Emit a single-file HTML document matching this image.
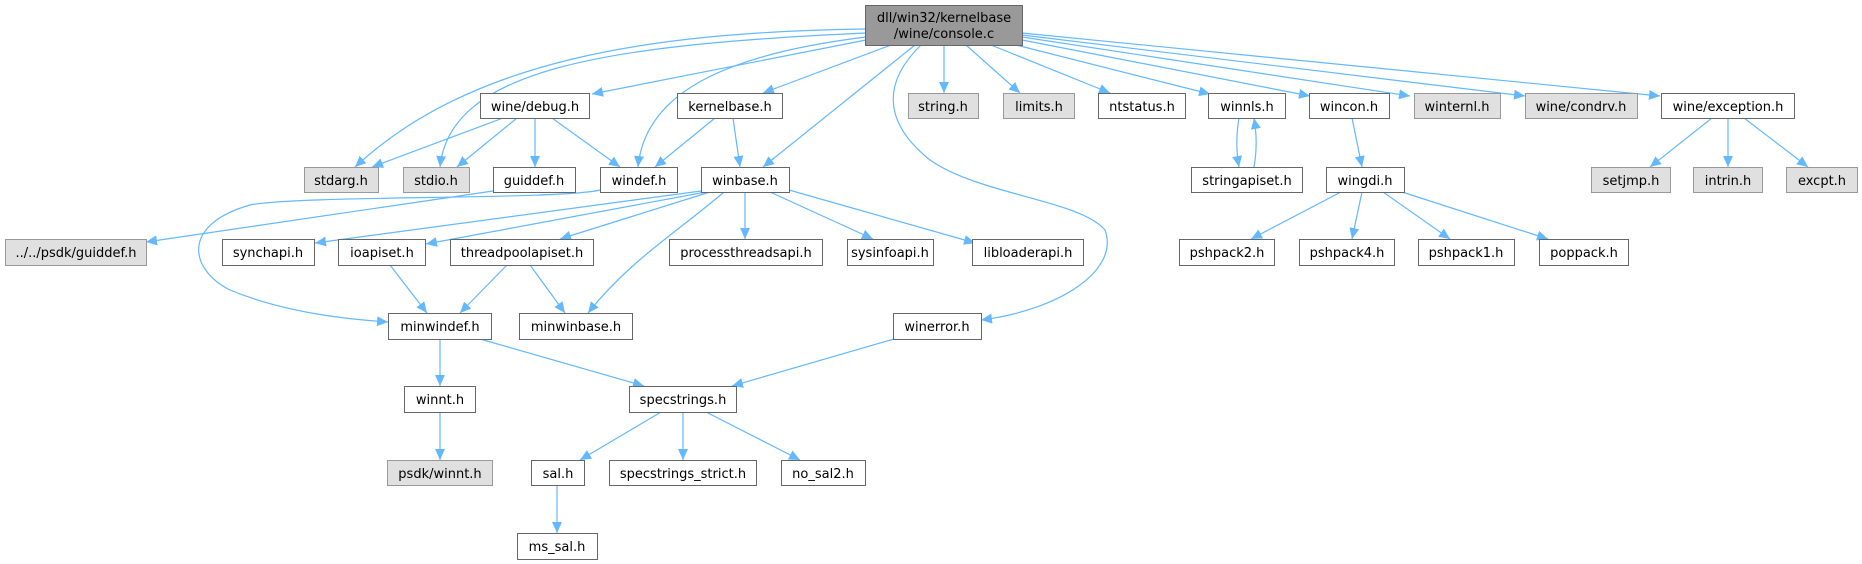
<!DOCTYPE html>
<html><head><meta charset="utf-8"><style>
html,body{margin:0;padding:0;background:#fff;}
svg{display:block;}
text{font-family:"DejaVu Sans","Liberation Sans",sans-serif;font-size:13px;fill:#000;text-anchor:middle;}
.w{fill:#fff;stroke:#666;stroke-width:1;}
.g{fill:#e0e0e0;stroke:#999;stroke-width:1;}
.t{fill:#999;stroke:#666;stroke-width:1;}
.e{fill:none;stroke:#63b8ff;stroke-width:1.2;}
</style></head><body>
<svg width="1862" height="564" viewBox="0 0 1862 564" xmlns="http://www.w3.org/2000/svg">
<defs><marker id="a" markerUnits="userSpaceOnUse" markerWidth="12" markerHeight="10" refX="11" refY="5" orient="auto"><path d="M0,0 L11,5 L0,10 z" fill="#63b8ff"/></marker></defs>
<g class="edges" marker-end="url(#a)">
<path class="e" d="M866,29 C650,32 470,60 355,167"/>
<path class="e" d="M866,33 C600,45 450,70 440,167"/>
<path class="e" d="M866,40 L592,94"/>
<path class="e" d="M866,37 C720,55 645,95 638,167"/>
<path class="e" d="M891,45 L763,93"/>
<path class="e" d="M915,45 L763,167"/>
<path class="e" d="M921,45 C885,80 880,120 930,160 C980,195 1080,200 1105,230 C1120,270 1060,310 981,320"/>
<path class="e" d="M944,45 L944,93"/>
<path class="e" d="M966,45 L1020,93"/>
<path class="e" d="M991,45 L1110,93"/>
<path class="e" d="M1016,45 L1210,94"/>
<path class="e" d="M1022,40 L1310,96"/>
<path class="e" d="M1022,37 L1410,96"/>
<path class="e" d="M1022,35 L1525,96"/>
<path class="e" d="M1022,33 L1660,96"/>
<path class="e" d="M503,118 L372,167"/>
<path class="e" d="M517,118 L457,167"/>
<path class="e" d="M535,118 L535,167"/>
<path class="e" d="M552,118 L620,167"/>
<path class="e" d="M715,118 L655,167"/>
<path class="e" d="M733,118 L740,167"/>
<path class="e" d="M493,191 L146,242"/>
<path class="e" d="M600,190 C560,200 300,195 250,205 C180,225 190,270 230,290 C290,315 360,320 388,322"/>
<path class="e" d="M701,191 L315,243"/>
<path class="e" d="M706,192 L426,244"/>
<path class="e" d="M710,192 L560,239"/>
<path class="e" d="M724,192 C680,230 630,260 588,313"/>
<path class="e" d="M745,192 L745,239"/>
<path class="e" d="M770,192 L873,239"/>
<path class="e" d="M789,190 L975,243"/>
<path class="e" d="M390,265 L427,313"/>
<path class="e" d="M507,265 L460,313"/>
<path class="e" d="M530,265 L565,313"/>
<path class="e" d="M440,339 L440,386"/>
<path class="e" d="M480,339 L644,386"/>
<path class="e" d="M894,339 L732,386"/>
<path class="e" d="M440,412 L440,460"/>
<path class="e" d="M661,412 L580,460"/>
<path class="e" d="M683,412 L683,460"/>
<path class="e" d="M706,412 L800,460"/>
<path class="e" d="M557,485 L557,533"/>
<path class="e" d="M1239,118 C1236,135 1236,150 1239,167"/>
<path class="e" d="M1254,167 C1257,150 1257,135 1254,118"/>
<path class="e" d="M1352,118 L1362,167"/>
<path class="e" d="M1341,192 L1251,239"/>
<path class="e" d="M1362,192 L1352,239"/>
<path class="e" d="M1383,192 L1450,239"/>
<path class="e" d="M1402,192 L1548,239"/>
<path class="e" d="M1712,118 L1650,167"/>
<path class="e" d="M1728,118 L1728,167"/>
<path class="e" d="M1744,118 L1808,167"/>
</g>
<rect class="t" x="865.5" y="5.5" width="157" height="40"/>
<text x="944" y="22">dll/win32/kernelbase</text><text x="944" y="38">/wine/console.c</text>
<g>
<rect class="w" x="480.5" y="93.5" width="109" height="25"/><text x="535" y="111">wine/debug.h</text>
<rect class="w" x="677.5" y="93.5" width="105" height="25"/><text x="730" y="111">kernelbase.h</text>
<rect class="g" x="908.5" y="93.5" width="70" height="25"/><text x="943" y="111">string.h</text>
<rect class="g" x="1003.5" y="93.5" width="71" height="25"/><text x="1039" y="111">limits.h</text>
<rect class="w" x="1098.5" y="93.5" width="87" height="25"/><text x="1142" y="111">ntstatus.h</text>
<rect class="w" x="1208.5" y="93.5" width="77" height="25"/><text x="1247" y="111">winnls.h</text>
<rect class="w" x="1309.5" y="93.5" width="80" height="25"/><text x="1349" y="111">wincon.h</text>
<rect class="g" x="1414.5" y="93.5" width="86" height="25"/><text x="1457" y="111">winternl.h</text>
<rect class="g" x="1525.5" y="93.5" width="112" height="25"/><text x="1581" y="111">wine/condrv.h</text>
<rect class="w" x="1661.5" y="93.5" width="133" height="25"/><text x="1728" y="111">wine/exception.h</text>

<rect class="g" x="304.5" y="167.5" width="74" height="25"/><text x="341" y="185">stdarg.h</text>
<rect class="g" x="403.5" y="167.5" width="66" height="25"/><text x="436" y="185">stdio.h</text>
<rect class="w" x="493.5" y="167.5" width="82" height="25"/><text x="534" y="185">guiddef.h</text>
<rect class="w" x="600.5" y="167.5" width="77" height="25"/><text x="639" y="185">windef.h</text>
<rect class="w" x="701.5" y="167.5" width="88" height="25"/><text x="745" y="185">winbase.h</text>
<rect class="w" x="1191.5" y="167.5" width="111" height="25"/><text x="1247" y="185">stringapiset.h</text>
<rect class="w" x="1326.5" y="167.5" width="78" height="25"/><text x="1365" y="185">wingdi.h</text>
<rect class="g" x="1591.5" y="167.5" width="79" height="25"/><text x="1631" y="185">setjmp.h</text>
<rect class="g" x="1693.5" y="167.5" width="69" height="25"/><text x="1728" y="185">intrin.h</text>
<rect class="g" x="1786.5" y="167.5" width="71" height="25"/><text x="1822" y="185">excpt.h</text>

<rect class="g" x="5.5" y="239.5" width="141" height="26"/><text x="76" y="257">../../psdk/guiddef.h</text>
<rect class="w" x="222.5" y="239.5" width="92" height="26"/><text x="268" y="257">synchapi.h</text>
<rect class="w" x="338.5" y="239.5" width="87" height="26"/><text x="382" y="257">ioapiset.h</text>
<rect class="w" x="450.5" y="239.5" width="143" height="26"/><text x="522" y="257">threadpoolapiset.h</text>
<rect class="w" x="669.5" y="239.5" width="153" height="26"/><text x="746" y="257">processthreadsapi.h</text>
<rect class="w" x="847.5" y="239.5" width="86" height="26"/><text x="890" y="257">sysinfoapi.h</text>
<rect class="w" x="972.5" y="239.5" width="111" height="26"/><text x="1028" y="257">libloaderapi.h</text>
<rect class="w" x="1179.5" y="239.5" width="95" height="26"/><text x="1227" y="257">pshpack2.h</text>
<rect class="w" x="1299.5" y="239.5" width="95" height="26"/><text x="1347" y="257">pshpack4.h</text>
<rect class="w" x="1418.5" y="239.5" width="96" height="26"/><text x="1466" y="257">pshpack1.h</text>
<rect class="w" x="1539.5" y="239.5" width="89" height="26"/><text x="1584" y="257">poppack.h</text>

<rect class="w" x="388.5" y="313.5" width="103" height="26"/><text x="440" y="331">minwindef.h</text>
<rect class="w" x="519.5" y="313.5" width="113" height="26"/><text x="576" y="331">minwinbase.h</text>
<rect class="w" x="893.5" y="313.5" width="88" height="26"/><text x="937" y="331">winerror.h</text>

<rect class="w" x="404.5" y="386.5" width="71" height="26"/><text x="440" y="404">winnt.h</text>
<rect class="w" x="629.5" y="386.5" width="107" height="26"/><text x="683" y="404">specstrings.h</text>

<rect class="g" x="387.5" y="460.5" width="105" height="25"/><text x="440" y="478">psdk/winnt.h</text>
<rect class="w" x="531.5" y="460.5" width="53" height="25"/><text x="558" y="478">sal.h</text>
<rect class="w" x="609.5" y="460.5" width="147" height="25"/><text x="683" y="478">specstrings_strict.h</text>
<rect class="w" x="781.5" y="460.5" width="84" height="25"/><text x="823" y="478">no_sal2.h</text>

<rect class="w" x="517.5" y="533.5" width="80" height="26"/><text x="557" y="551">ms_sal.h</text>
</g>
</svg>
</body></html>
